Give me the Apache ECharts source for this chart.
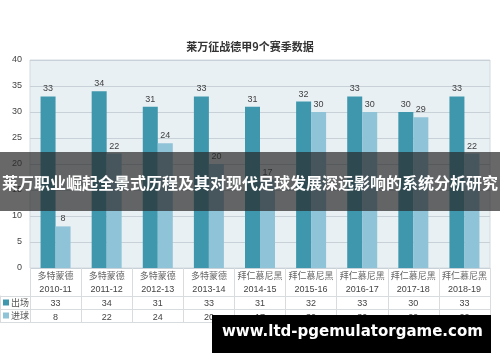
<!DOCTYPE html>
<html><head><meta charset="utf-8">
<script src="https://cdn.jsdelivr.net/npm/echarts@6/dist/echarts.min.js"></script>
<style>html,body{margin:0;padding:0;background:#fff}#c{width:500px;height:362px}</style>
</head><body><div id="c"></div>
<script>
const clubs = ['多特蒙德','多特蒙德','多特蒙德','多特蒙德','拜仁慕尼黑','拜仁慕尼黑','拜仁慕尼黑','拜仁慕尼黑','拜仁慕尼黑'];
const seasons = ['2010-11','2011-12','2012-13','2013-14','2014-15','2015-16','2016-17','2017-18','2018-19'];
const apps = [33,34,31,33,31,32,33,30,33];
const goals = [8,22,24,20,17,30,30,29,22];
const seriesNames = ['出场','进球'];
const yTicks = [0,5,10,15,20,25,30,35,40];

const C1 = '#3f97ad', C2 = '#8fc3d7';
const chart = echarts.init(document.getElementById('c'));
const numFont = 'Liberation Sans';
const cjk = 'Noto Sans CJK SC';
chart.setOption({
  animation:false,
  title:{text:'莱万征战德甲9个赛季数据',left:'center',top:36,
    textStyle:{fontSize:11,fontWeight:'bold',color:'#333',fontFamily:cjk}},
  grid:[
    {left:30,right:10,top:60,height:208,show:true,backgroundColor:'#e9f0f4',borderColor:'#d3dade',borderWidth:1},
    {left:0,right:10,top:296,height:26}
  ],
  xAxis:[
    {type:'category',gridIndex:0,data:seasons,
      axisLine:{show:false},
      axisTick:{show:true,length:54,lineStyle:{color:'#d8dcdf'}},
      axisLabel:{margin:1,interval:0,
        formatter:(v,i)=>'{c|'+clubs[i]+'}\n{s|'+v+'}\n{v|'+apps[i]+'}\n{v|'+goals[i]+'}',
        rich:{
          c:{fontSize:9,color:'#666',fontFamily:cjk,lineHeight:14},
          s:{fontSize:9,color:'#444',fontFamily:numFont,lineHeight:14},
          v:{fontSize:9,color:'#444',fontFamily:numFont,lineHeight:13.5}
        }}},
    {type:'value',gridIndex:1,show:false,min:0,max:1}
  ],
  yAxis:[
    {type:'value',gridIndex:0,min:0,max:40,interval:5,
      axisLine:{show:false},axisTick:{show:false},
      splitLine:{lineStyle:{color:'#c7d1d7',width:1}},
      axisLabel:{color:'#444',fontSize:9,fontFamily:numFont,
        formatter:v=>yTicks.includes(v)?String(v):''}},
    {type:'category',gridIndex:1,data:seriesNames,inverse:true,
      axisLine:{show:true,lineStyle:{color:'#d8dcdf'}},axisTick:{show:false},
      splitLine:{show:true,interval:0,lineStyle:{color:'#d8dcdf'}},
      axisLabel:{inside:true,margin:3,interval:0,hideOverlap:false,
        formatter:(v,i)=>'{'+(i===0?'a':'b')+'|}{t| '+v+'}',
        rich:{a:{width:6,height:6,backgroundColor:C1},b:{width:6,height:6,backgroundColor:C2},
          t:{fontSize:9,color:'#555',fontFamily:cjk}}}}
  ],
  series:[
    {name:seriesNames[0],type:'bar',data:apps,barWidth:15,barGap:'0%',itemStyle:{color:C1},
      label:{show:true,position:'top',distance:3,fontSize:9,color:'#404040',fontFamily:numFont}},
    {name:seriesNames[1],type:'bar',data:goals,barWidth:15,barGap:'0%',itemStyle:{color:C2},
      label:{show:true,position:'top',distance:3,fontSize:9,color:'#404040',fontFamily:numFont}},
    {type:'line',xAxisIndex:1,yAxisIndex:1,data:[],silent:true}
  ],
  graphic:[
    {type:'rect',left:0,top:152,shape:{width:500,height:59},style:{fill:'rgba(40,40,40,0.7)'},z:100},
    {type:'text',left:'center',top:175,style:{text:'莱万职业崛起全景式历程及其对现代足球发展深远影响的系统分析研究',
      fill:'#fff',font:'bold 16px "Noto Sans CJK SC", sans-serif'},z:101},
    {type:'rect',left:212,top:315,shape:{width:279,height:38},style:{fill:'#000'},z:100},
    {type:'text',left:222,top:325,style:{text:'www.ltd-pgemulatorgame.com',
      fill:'#fff',fontSize:15,fontWeight:'bold',fontFamily:'DejaVu Sans'},z:101}
  ]
});
</script></body></html>
